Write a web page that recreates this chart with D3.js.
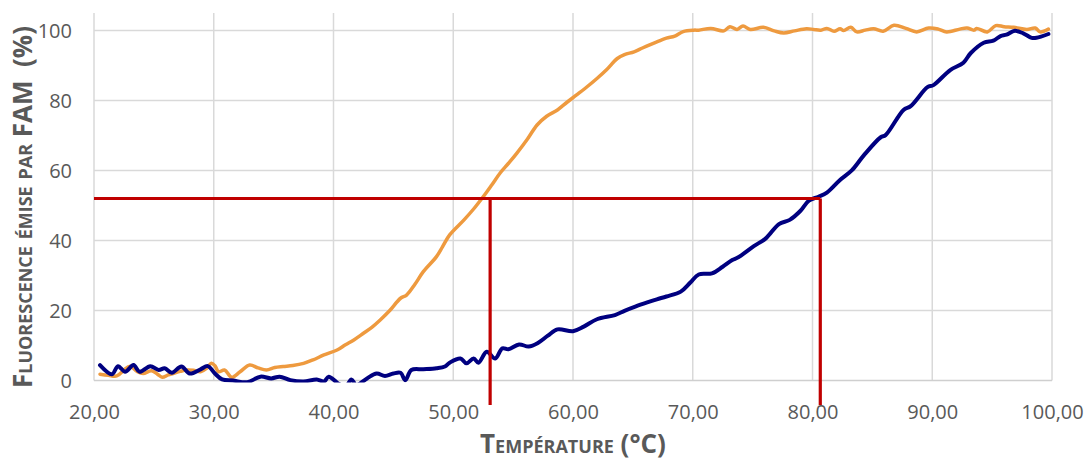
<!DOCTYPE html>
<html>
<head>
<meta charset="utf-8">
<script src="https://cdn.jsdelivr.net/npm/d3@7"></script>
<style>
  html, body { margin: 0; padding: 0; background: #fff; }
  svg { display: block; }
  text { font-family: "Open Sans", "Noto Sans", sans-serif; fill: #595959; }
</style>
</head>
<body>
<svg id="chart" width="1090" height="461"></svg>
<script>
// ---- Data ----
const xTicks = [20, 30, 40, 50, 60, 70, 80, 90, 100];
const yTicks = [0, 20, 40, 60, 80, 100];
const xTickLabels = ["20,00", "30,00", "40,00", "50,00", "60,00", "70,00", "80,00", "90,00", "100,00"];

const orangeTemp = [20.5,21.2,21.9,22.5,23.0,23.6,24.1,24.8,25.3,25.7,26.2,26.6,27.2,27.7,28.3,28.9,29.4,29.8,30.1,30.4,30.9,31.5,32.2,33.0,33.7,34.4,35.1,35.8,36.6,37.5,38.3,39.2,40.3,41.0,41.7,42.5,43.2,43.9,44.7,45.6,46.1,46.8,47.5,48.6,49.1,49.7,50.9,51.7,52.5,53.2,53.9,54.6,55.3,56.2,57.0,57.8,58.7,59.5,60.3,61.2,62.0,62.8,63.7,64.3,65.1,65.8,66.4,67.1,67.8,68.5,69.2,70.1,70.5,71.5,72.6,73.1,73.7,74.2,74.8,75.9,76.8,77.6,78.5,79.5,80.1,80.7,81.2,81.8,82.3,82.6,83.2,83.7,84.4,85.1,85.9,86.8,87.8,88.7,89.7,90.5,91.2,92.3,92.9,93.5,93.7,94.6,95.3,96.0,96.8,97.9,98.6,99.0,99.7];
const orangeValues = [1.8,1.5,1.3,3.0,4.1,2.6,2.0,2.8,1.8,0.9,1.6,2.0,2.6,3.0,2.9,2.5,3.5,4.9,4.2,2.5,3.0,0.9,2.5,4.4,3.6,3.0,3.7,4.0,4.3,4.9,5.9,7.3,8.7,10.2,11.6,13.5,15.2,17.3,20.0,23.5,24.4,27.5,31.1,35.4,38.2,41.6,45.9,49.0,52.5,55.8,59.2,62.0,64.9,69.0,73.0,75.5,77.3,79.5,81.6,84.0,86.3,88.8,92.0,93.1,93.9,95.0,95.9,96.9,97.8,98.4,99.7,100.1,100.1,100.6,99.9,101.1,100.3,101.3,100.3,100.9,99.9,99.3,99.9,100.5,100.3,100.1,100.6,99.8,100.5,100.0,100.9,99.6,100.1,100.5,99.8,101.5,100.6,99.6,100.7,100.4,99.6,100.4,100.7,100.1,100.6,99.6,101.4,101.1,100.9,100.3,100.7,99.6,100.4];

const blueTemp = [20.5,21.5,22.0,22.6,23.3,23.8,24.7,25.4,25.9,26.5,27.3,28.0,28.9,29.5,30.1,30.7,31.6,32.8,33.9,34.8,35.5,36.4,37.5,38.6,39.2,39.6,40.3,41.0,41.5,41.9,42.8,43.6,44.3,45.0,45.6,46.0,46.5,47.5,48.6,49.3,49.7,50.6,51.1,51.7,52.1,52.8,53.5,54.1,54.6,55.5,56.3,57.1,57.9,58.7,60.0,60.9,62.0,63.5,64.3,65.2,66.2,67.0,67.8,69.0,69.8,70.5,71.6,72.5,73.3,73.8,75.1,76.1,77.2,78.1,79.0,79.7,80.5,81.2,82.3,83.3,84.3,85.7,86.1,87.6,88.2,89.6,90.1,91.5,92.6,93.2,94.3,95.1,95.7,96.2,96.9,97.6,98.3,98.7,99.7];
const blueValues = [4.4,1.8,4.1,2.5,4.4,2.5,4.1,3.0,3.5,2.2,4.0,2.0,3.2,4.1,2.0,0.3,0.0,-0.5,1.1,0.6,1.1,0.1,-0.3,0.3,-0.3,1.1,-0.6,-1.8,0.3,-1.3,0.6,2.0,1.3,2.0,2.2,0.1,3.0,3.2,3.5,4.0,5.1,6.3,4.9,6.3,5.1,8.2,6.3,9.2,8.9,10.3,9.7,10.8,12.8,14.6,14.1,15.4,17.5,18.7,19.9,21.1,22.3,23.2,24.0,25.4,28.0,30.3,30.6,32.5,34.4,35.2,38.4,40.6,44.7,45.9,48.5,51.4,52.5,53.7,57.3,60.1,64.4,69.5,70.1,77.3,78.4,83.8,84.4,88.7,90.8,93.5,96.5,97.1,98.4,98.8,99.9,99.2,97.9,97.9,99.0];

// Reference lines (Tm readings)
const thresholdValue = 52;
const tmOrange = 53.08;
const tmBlue = 80.65;
const dropBottom = -7;

const xLabel = "Température (°C)";
const yLabel = "Fluorescence émise par FAM\u00A0 (%)";

// ---- Layout ----
const svg = d3.select("#chart");
const pLeft = 94, pRight = 1052, pTop = 13, pBottom = 380.5;
const x = d3.scaleLinear().domain([20, 100]).range([pLeft, pRight]);
const y = d3.scaleLinear().domain([0, 105]).range([pBottom, pTop]);

// gridlines
const grid = svg.append("g");
grid.selectAll("line.h").data(yTicks.filter(d => d > 0)).join("line")
  .attr("x1", pLeft).attr("x2", pRight)
  .attr("y1", d => y(d)).attr("y2", d => y(d))
  .attr("stroke", "#d9d9d9").attr("stroke-width", 1.5);
grid.selectAll("line.v").data(xTicks).join("line")
  .attr("x1", d => x(d)).attr("x2", d => x(d))
  .attr("y1", pTop).attr("y2", pBottom)
  .attr("stroke", "#d9d9d9").attr("stroke-width", 1.5);
// bottom axis line
svg.append("line").attr("x1", pLeft).attr("x2", pRight)
  .attr("y1", y(0)).attr("y2", y(0))
  .attr("stroke", "#cfcfcf").attr("stroke-width", 1.5);

// axes (labels only)
const xAxis = d3.axisBottom(x).tickValues(xTicks)
  .tickFormat((d, i) => xTickLabels[i]).tickSize(0).tickPadding(0);
const gx = svg.append("g").attr("transform", `translate(0,${pBottom})`).call(xAxis);
gx.select(".domain").remove();
gx.selectAll("text").attr("dy", null).attr("y", 38)
  .style("font-size", "20px").style("fill", "#595959")
  .style("font-family", "'Open Sans', sans-serif");

const yAxis = d3.axisLeft(y).tickValues(yTicks).tickSize(0).tickPadding(0);
const gy = svg.append("g").attr("transform", `translate(${pLeft - 22},0)`).call(yAxis);
gy.select(".domain").remove();
gy.selectAll("text").attr("dy", "0.35em").attr("x", 0)
  .style("font-size", "20px").style("fill", "#595959")
  .style("font-family", "'Open Sans', sans-serif");

// clip
svg.append("clipPath").attr("id", "plotclip").append("rect")
  .attr("x", pLeft - 2).attr("y", pTop).attr("width", pRight - pLeft + 6).attr("height", pBottom - pTop + 2);

const line = d3.line().x(d => x(d[0])).y(d => y(d[1]));
const smooth = d3.line().x(d => x(d[0])).y(d => y(d[1])).curve(d3.curveCatmullRom.alpha(0.5));
const orangeData = orangeTemp.map((t, i) => [t, orangeValues[i]]);
const blueData = blueTemp.map((t, i) => [t, blueValues[i]]);

const plot = svg.append("g").attr("clip-path", "url(#plotclip)");
plot.append("path").datum(orangeData).attr("d", smooth)
  .attr("fill", "none").attr("stroke", "#ee9a3f").attr("stroke-width", 3.5)
  .attr("stroke-linejoin", "round").attr("stroke-linecap", "round");
plot.append("path").datum(blueData).attr("d", smooth)
  .attr("fill", "none").attr("stroke", "#000080").attr("stroke-width", 4)
  .attr("stroke-linejoin", "round").attr("stroke-linecap", "round");

// red reference lines
const red = svg.append("g").attr("stroke", "#c00000").attr("stroke-width", 3.2).attr("fill", "none");
red.append("path").attr("d", line([[20, thresholdValue], [tmBlue, thresholdValue]]));
red.append("path").attr("d", line([[tmOrange, thresholdValue], [tmOrange, dropBottom]]));
red.append("path").attr("d", line([[tmBlue, thresholdValue], [tmBlue, dropBottom]]));

// axis titles
svg.append("text").attr("x", (pLeft + pRight) / 2).attr("y", 453)
  .attr("text-anchor", "middle")
  .style("font-size", "26px").style("font-weight", "bold")
  .style("font-variant", "small-caps").style("fill", "#595959")
  .text(xLabel);

svg.append("text")
  .attr("transform", `translate(32,207) rotate(-90)`)
  .attr("text-anchor", "middle")
  .style("font-size", "26px").style("font-weight", "bold")
  .style("font-variant", "small-caps").style("fill", "#595959")
  .text(yLabel);
</script>
</body>
</html>
